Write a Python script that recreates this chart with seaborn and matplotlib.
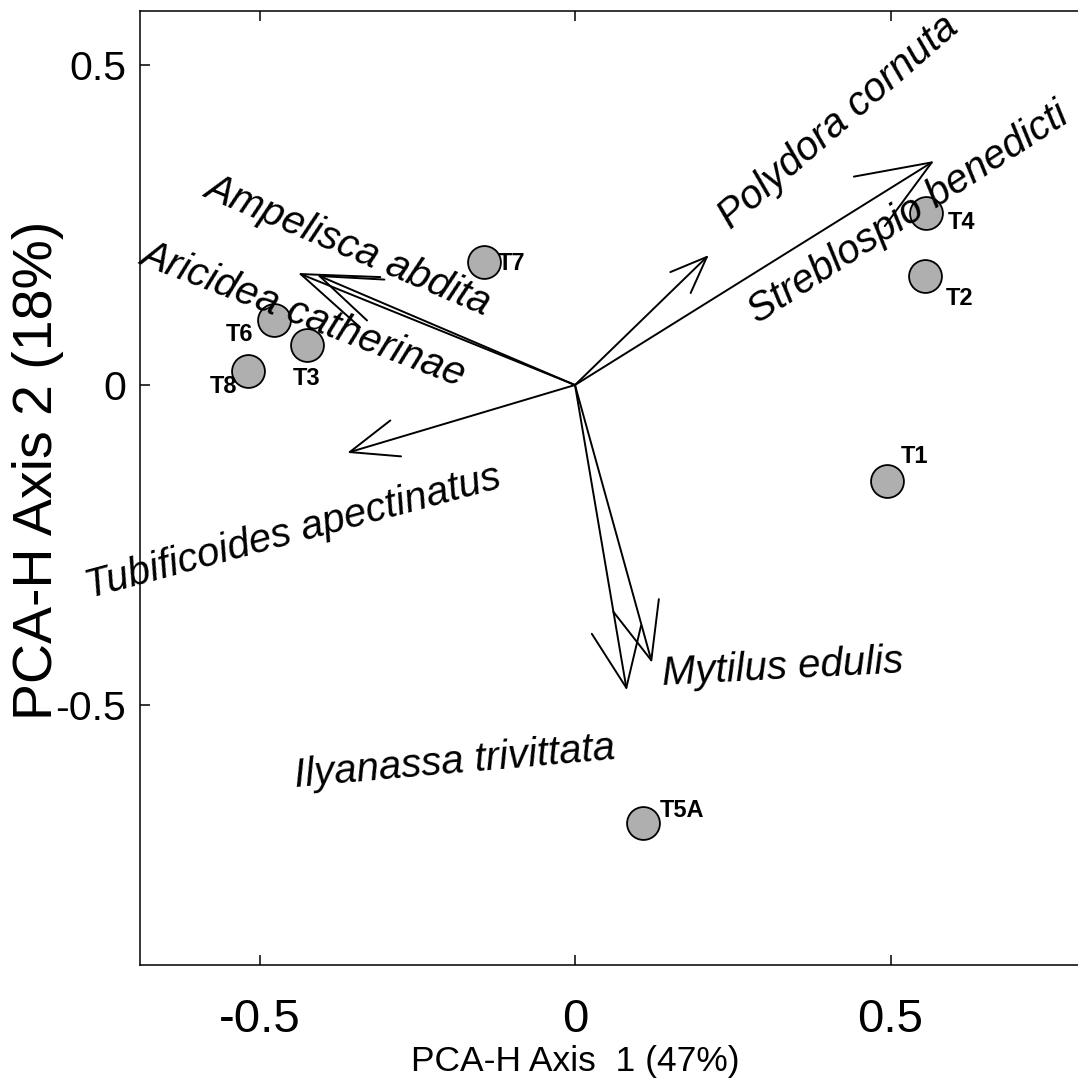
import numpy as np
import pandas as pd
import matplotlib
matplotlib.use("Agg")
import matplotlib.pyplot as plt
import seaborn as sns
from matplotlib.patches import ArrowStyle

# ---- site scores on the first two PCA-H axes ----
sites = ["T1", "T2", "T3", "T4", "T5A", "T6", "T7", "T8"]
site_ax1 = [0.494, 0.555, -0.425, 0.556, 0.108, -0.477, -0.144, -0.518]
site_ax2 = [-0.150, 0.170, 0.0625, 0.269, -0.684, 0.102, 0.192, 0.022]

# ---- species loadings (arrow tips) ----
species = ["Polydora cornuta", "Streblospio benedicti", "Ampelisca abdita",
           "Aricidea catherinae", "Tubificoides apectinatus", "Mytilus edulis",
           "Ilyanassa trivittata"]
species_ax1 = [0.212, 0.569, -0.439, -0.409, -0.361, 0.122, 0.082]
species_ax2 = [0.203, 0.350, 0.175, 0.172, -0.106, -0.434, -0.477]

xtick_vals = [-0.5, 0.0, 0.5]
xtick_labels = ["-0.5", "0", "0.5"]
ytick_vals = [-0.5, 0.0, 0.5]
ytick_labels = ["-0.5", "0", "0.5"]
x_title = "PCA-H Axis  1 (47%)"
y_title = "PCA-H Axis 2 (18%)"

# ---- styling ----
sns.set_style("ticks")
FONT = ["Liberation Sans", "DejaVu Sans"]
plt.rcParams.update({
    "font.family": FONT,
    "text.color": "black",
    "axes.labelcolor": "black",
    "xtick.color": "black",
    "ytick.color": "black",
    "axes.edgecolor": "black",
})

# arrowhead sizes (points): barb length along shaft, half width
head_sizes = {
    "Polydora cornuta": (26.5, 10.5),
    "Streblospio benedicti": (53.0, 21.0),
    "Ampelisca abdita": (54.0, 19.5),
    "Aricidea catherinae": (44.0, 16.0),
    "Tubificoides apectinatus": (34.5, 13.5),
    "Mytilus edulis": (41.0, 17.0),
    "Ilyanassa trivittata": (42.5, 18.0),
}
# species label placement: offset from the arrow tip (points) and rotation
species_label_style = {
    "Polydora cornuta": ((93.6, 95.8), 41),
    "Streblospio benedicti": ((-18.7, -37.4), 33),
    "Ampelisca abdita": ((36.0, 20.2), -23),
    "Aricidea catherinae": ((-9.4, -28.8), -21),
    "Tubificoides apectinatus": ((-38.9, -56.9), 15),
    "Mytilus edulis": ((94.3, -3.6), 3),
    "Ilyanassa trivittata": ((-123.8, -52.0), 5),
}
# site label offsets (points)
site_label_offsets = {
    "T1": (20, 17.3), "T2": (24.5, -15.8), "T3": (0, -23.8), "T4": (26, -7.2),
    "T5A": (28, 8.6), "T6": (-24.5, -10.8), "T7": (20, -0.7), "T8": (-18, -11.5),
}

W, H = 1078, 1085
fig = plt.figure(figsize=(W / 100, H / 100), dpi=100)
ax = fig.add_axes([140 / W, 1 - 965 / H, 1 - 140 / W, (965 - 11) / H])

sites_df = pd.DataFrame({"site": sites, "ax1": site_ax1, "ax2": site_ax2})
species_df = pd.DataFrame({"species": species, "ax1": species_ax1, "ax2": species_ax2})

# species vectors from the origin
for _, row in species_df.iterrows():
    hl, hw = head_sizes[row["species"]]
    ax.annotate("", xy=(row["ax1"], row["ax2"]), xytext=(0, 0),
                arrowprops=dict(arrowstyle=ArrowStyle("->", head_length=hl, head_width=hw),
                                mutation_scale=1, shrinkA=0, shrinkB=0,
                                lw=1.4, color="black"), zorder=2)
    off, rot = species_label_style[row["species"]]
    ax.annotate(row["species"], xy=(row["ax1"], row["ax2"]), xytext=off,
                textcoords="offset points", rotation=rot, rotation_mode="anchor",
                ha="center", va="center", fontsize=29, style="italic",
                family=FONT, color="black", zorder=4)

# site scores
sns.scatterplot(data=sites_df, x="ax1", y="ax2", s=560, color="#afafaf",
                edgecolor="black", linewidth=1.3, ax=ax, zorder=3, legend=False)
for _, row in sites_df.iterrows():
    ax.annotate(row["site"], xy=(row["ax1"], row["ax2"]),
                xytext=site_label_offsets[row["site"]], textcoords="offset points",
                ha="center", va="center", fontsize=17, fontweight="bold",
                family=FONT, color="black", zorder=4)

ax.set_xlim((140 - 575) / 631, (1078 - 575) / 631)
ax.set_ylim((385 - 965) / 640, (385 - 11) / 640)

ax.set_xticks(xtick_vals)
ax.set_xticklabels(xtick_labels, fontsize=34, family=FONT)
ax.set_yticks(ytick_vals)
ax.set_yticklabels(ytick_labels, fontsize=29.5, family=FONT)
ax.tick_params(axis="x", direction="in", length=7, width=1.1, pad=24,
               top=True, bottom=True, colors="black")
ax.tick_params(axis="y", direction="in", length=7, width=1.1, pad=10,
               left=True, right=False, colors="black")

ax.set_xlabel(x_title, fontsize=25.5, family=FONT, va="center")
ax.xaxis.set_label_coords((575 - 140) / 938, (965 - 1062) / 954)
ax.set_ylabel(y_title, fontsize=40, family=FONT, va="center")
ax.yaxis.set_label_coords((38 - 140) / 938, (965 - 470) / 954)

for side in ["left", "bottom", "top"]:
    ax.spines[side].set_linewidth(1.1)
    ax.spines[side].set_color("black")
ax.spines["right"].set_visible(False)

fig.savefig("out.png", dpi=100, facecolor="white")
